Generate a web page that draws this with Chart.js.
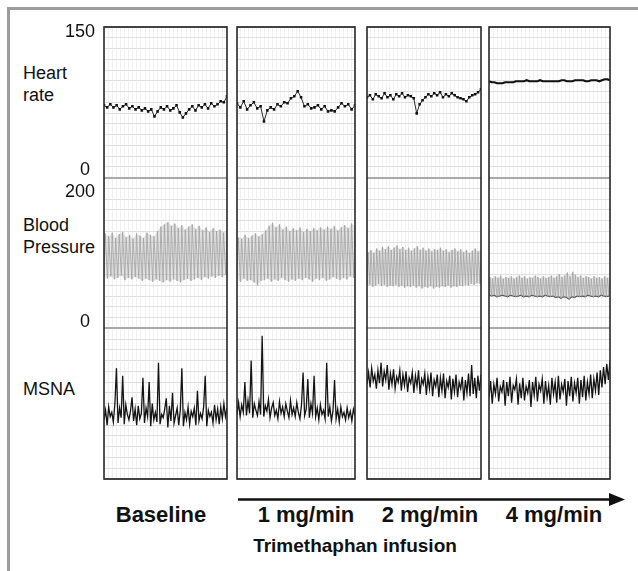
<!DOCTYPE html>
<html><head><meta charset="utf-8">
<script src="https://cdn.jsdelivr.net/npm/chart.js@4.4.1/dist/chart.umd.min.js"></script>
<style>
html,body{margin:0;padding:0;background:#fff;}
body{width:638px;height:571px;position:relative;overflow:hidden;font-family:"Liberation Sans",Arial,sans-serif;color:#111;}
.frameTop{position:absolute;left:7px;top:7px;width:631px;height:3px;background:#9c9c9c;}
.frameLeft{position:absolute;left:7px;top:7px;width:3px;height:564px;background:#9c9c9c;}
canvas{position:absolute;}
.lbl{position:absolute;font-size:18px;line-height:22px;white-space:nowrap;color:#111;}
.cond{position:absolute;font-weight:bold;white-space:nowrap;transform:translateX(-50%);color:#111;}
svg{position:absolute;left:0;top:0;}
</style></head><body>
<div class="frameTop"></div><div class="frameLeft"></div>
<div class="lbl" style="left:23px;top:62px;">Heart<br>rate</div>
<div class="lbl" style="left:23px;top:214px;">Blood<br>Pressure</div>
<div class="lbl" style="left:23px;top:378px;">MSNA</div>
<svg width="638" height="571"><line x1="238" y1="499.5" x2="612" y2="499.5" stroke="#111" stroke-width="2.6"/><polygon points="609,493 625,499.5 609,506" fill="#111"/></svg>
<div id="labels"></div>
<script>
// ---------------- DATA ----------------
const panelNames = ['Baseline', '1 mg/min', '2 mg/min', '4 mg/min'];
const infusionLabel = 'Trimethaphan infusion';
const hrTickValues = [0, 150];
const bpTickValues = [0, 200];
const msnaRange = [0, 140]; // arbitrary units

// Heart rate (beats/min)
const hrBaseline = [72, 70, 73, 70, 72, 68, 71, 73, 69, 71, 68, 70, 67, 69, 66, 68, 61, 66, 70, 68, 71, 67, 69, 72, 65, 60, 64, 68, 71, 67, 72, 70, 73, 69, 74, 71, 73, 76, 75, 81];
const hr1mg = [74, 70, 76, 68, 72, 75, 69, 71, 56, 67, 70, 68, 73, 71, 75, 74, 79, 81, 86, 80, 71, 73, 69, 70, 72, 68, 71, 66, 67, 66, 70, 74, 71, 73, 68, 72];
const hr2mg = [80, 82, 78, 83, 81, 79, 84, 80, 82, 78, 83, 81, 84, 80, 82, 81, 79, 64, 73, 77, 80, 83, 81, 84, 82, 85, 80, 83, 81, 84, 82, 80, 79, 78, 76, 80, 82, 83, 85, 88];
const hr4mg = [96, 95, 95, 94, 94, 94, 95, 95, 95, 95, 96, 96, 96, 96, 97, 96, 96, 96, 96, 97, 96, 96, 96, 96, 96, 96, 96, 97, 97, 96, 96, 96, 97, 97, 97, 97, 96, 96, 97, 97, 97, 96, 97, 98, 98, 97];

// Blood pressure, beat by beat (mmHg)
const sysBaseline = [126, 122, 127, 120, 125, 128, 121, 124, 119, 126, 123, 120, 127, 124, 122, 129, 135, 138, 141, 136, 139, 133, 137, 131, 135, 138, 132, 136, 130, 134, 128, 133, 129, 131, 127, 130];
const diaBaseline = [68, 66, 69, 65, 67, 70, 64, 67, 65, 68, 66, 63, 66, 64, 62, 65, 63, 61, 64, 62, 65, 63, 61, 64, 66, 63, 65, 67, 64, 68, 66, 69, 67, 70, 68, 71];
const sys1mg = [121, 119, 124, 120, 123, 126, 122, 125, 130, 136, 140, 134, 138, 131, 135, 129, 133, 130, 134, 128, 132, 129, 133, 130, 134, 131, 135, 132, 136, 130, 134, 137, 133, 139, 136];
const dia1mg = [65, 62, 66, 63, 64, 61, 57, 63, 64, 66, 62, 65, 63, 67, 64, 62, 65, 63, 66, 64, 67, 65, 62, 66, 64, 67, 63, 65, 68, 66, 64, 67, 65, 69, 67];
const sys2mg = [101, 104, 100, 106, 103, 108, 105, 109, 104, 107, 110, 105, 108, 104, 107, 103, 106, 109, 104, 107, 103, 106, 102, 105, 104, 107, 103, 105, 101, 104, 106, 102, 105, 101, 104, 100, 103, 106, 102, 105];
const dia2mg = [56, 58, 55, 57, 59, 56, 58, 55, 57, 56, 58, 55, 57, 54, 56, 55, 57, 54, 56, 53, 55, 54, 56, 53, 55, 54, 56, 55, 57, 54, 56, 55, 57, 56, 58, 57, 59, 58, 60, 59];
const sys4mg = [68, 66, 69, 67, 70, 66, 68, 67, 69, 66, 68, 70, 67, 69, 66, 68, 67, 70, 68, 66, 69, 67, 68, 70, 67, 69, 72, 68, 70, 74, 69, 75, 71, 68, 70, 67, 69, 68, 66, 69, 67, 68, 66, 69, 67, 68];
const dia4mg = [44, 43, 44, 42, 43, 44, 43, 42, 44, 43, 42, 43, 44, 42, 43, 42, 44, 43, 42, 43, 42, 44, 43, 42, 43, 41, 42, 40, 42, 41, 39, 42, 41, 43, 42, 43, 42, 44, 43, 42, 43, 42, 44, 43, 42, 43];

// MSNA (arbitrary units)
const msnaBaseline = [55, 64, 50, 67, 58, 62, 53, 70, 103, 52, 66, 57, 96, 51, 69, 60, 55, 63, 76, 54, 65, 50, 68, 56, 61, 94, 52, 66, 58, 90, 49, 70, 55, 62, 53, 108, 51, 60, 57, 65, 75, 48, 68, 54, 80, 52, 59, 66, 50, 64, 103, 49, 62, 55, 67, 51, 63, 58, 66, 50, 82, 54, 61, 56, 67, 96, 49, 64, 58, 62, 52, 69, 55, 65, 51, 67, 56, 70, 58, 66];
const msna1mg = [60, 71, 58, 69, 62, 90, 59, 73, 61, 110, 57, 70, 64, 59, 72, 60, 133, 58, 68, 63, 74, 57, 66, 71, 59, 64, 56, 72, 61, 67, 58, 70, 63, 57, 73, 60, 66, 58, 71, 62, 56, 69, 99, 59, 65, 93, 57, 70, 61, 96, 58, 66, 55, 69, 60, 64, 56, 108, 58, 67, 54, 63, 92, 56, 65, 53, 67, 58, 62, 55, 66, 57, 63, 54, 65, 59];
const msna2mg = [88, 99, 85, 103, 91, 97, 84, 101, 89, 108, 86, 100, 92, 106, 83, 98, 88, 102, 84, 95, 90, 101, 82, 97, 87, 100, 81, 94, 89, 99, 80, 96, 86, 101, 79, 93, 88, 98, 78, 95, 84, 99, 77, 92, 86, 97, 76, 94, 82, 98, 75, 91, 85, 96, 74, 93, 81, 97, 76, 90, 84, 95, 73, 92, 80, 98, 77, 106, 79, 94, 75, 96, 82, 97];
const msna4mg = [76, 91, 70, 88, 79, 94, 72, 86, 81, 92, 68, 90, 77, 95, 71, 87, 83, 93, 69, 89, 75, 94, 73, 86, 80, 92, 67, 90, 78, 95, 72, 88, 82, 93, 70, 91, 76, 87, 69, 94, 79, 90, 71, 96, 74, 88, 81, 93, 68, 91, 77, 95, 72, 89, 80, 94, 70, 92, 76, 96, 73, 90, 79, 97, 75, 93, 82, 99, 78, 101, 85, 104, 88, 107, 92, 110];

// ---------------- LAYOUT (pixels) ----------------
const PANELS = [
  {left:104, right:227, top:27, bottom:479, hr:hrBaseline, sys:sysBaseline, dia:diaBaseline, msna:msnaBaseline, labelX:161},
  {left:237, right:355, top:27, bottom:479, hr:hr1mg, sys:sys1mg, dia:dia1mg, msna:msna1mg, labelX:306},
  {left:367, right:481, top:27, bottom:479, hr:hr2mg, sys:sys2mg, dia:dia2mg, msna:msna2mg, labelX:430},
  {left:489, right:610, top:27, bottom:479, hr:hr4mg, sys:sys4mg, dia:dia4mg, msna:msna4mg, labelX:554}
];
const T = 30; // seconds of recording shown per panel

function series(vals){
  const n = vals.length;
  return vals.map((v,i)=>({x: i*T/(n-1), y: v}));
}
function beatTimes(n){ return T/(n-0.65); }
function pulse(sys, dia){
  const n = sys.length, per = beatTimes(n), out = [];
  for (let i=0;i<n;i++){ out.push({x:i*per, y:dia[i]}); out.push({x:i*per+0.35*per, y:sys[i]}); }
  return out;
}
function sysPts(sys){ const per = beatTimes(sys.length); return sys.map((v,i)=>({x:i*per+0.35*per, y:v})); }
function diaPts(dia){ const per = beatTimes(dia.length); return dia.map((v,i)=>({x:i*per, y:v})); }
const near = (a,b)=>Math.abs(a-b)<1e-6;

const borderPlugin = {
  id:'panelBorder',
  afterDraw(chart){
    const a = chart.chartArea, c = chart.ctx;
    c.save(); c.strokeStyle='#2a2a2a'; c.lineWidth=1.6;
    c.strokeRect(a.left, a.top, a.right-a.left, a.bottom-a.top);
    c.restore();
  }
};

function gridColor(ctx){
  const last = ctx.scale.ticks.length-1;
  return (ctx.index===0 || ctx.index===last) ? '#a9a9a9' : '#e0e0e0';
}
function gridWidth(ctx){
  const last = ctx.scale.ticks.length-1;
  return (ctx.index===0 || ctx.index===last) ? 2 : 1;
}

PANELS.forEach((p, i) => {
  const first = i===0;
  const pad = 8;
  const axisW = first ? p.left - 12 - pad : 0;
  const cl = p.left - pad - axisW, ct = p.top - pad;
  const cw = p.right - p.left + 2*pad + axisW, ch = p.bottom - p.top + 2*pad;
  const cv = document.createElement('canvas');
  cv.width = cw; cv.height = ch;
  cv.style.left = cl+'px'; cv.style.top = ct+'px';
  cv.style.width = cw+'px'; cv.style.height = ch+'px';
  document.body.appendChild(cv);

  const yCommon = (min, max, weight, vals, lh, off) => ({
    type:'linear', position:'left', stack:'panel', stackWeight:1, weight:weight,
    min:min, max:max,
    border:{display:false},
    grid:{color:gridColor, lineWidth:gridWidth, drawTicks:false},
    ticks:{
      count:15, autoSkip:false, display:first && !!vals, padding:9,
      color:'#111', labelOffset:off,
      font:{family:'Liberation Sans', size:18, lineHeight:lh},
      callback:(v)=>{
        if (!vals) return '';
        if (near(v, vals[1])) return ['', String(vals[1])];
        if (near(v, vals[0])) return [String(vals[0])+' ', ''];
        return '';
      }
    },
    afterFit:(s)=>{ s.width = axisW; s.paddingTop = 0; s.paddingBottom = 0; }
  });

  const datasets = [
    {label:'Heart rate', data:series(p.hr), yAxisID:'yHr', borderColor:'#111', backgroundColor:'#111',
     borderWidth: i===3 ? 2.2 : 0.9, pointRadius: i===3 ? 0 : 1.8, pointBorderWidth:0, pointStyle:'rect', tension:0},
    {label:'Systolic envelope', data:sysPts(p.sys), yAxisID:'yBp', borderColor:'rgba(0,0,0,0)', borderWidth:0,
     pointRadius:0, fill:'+1', backgroundColor:'rgba(175,175,175,0.35)', tension:0},
    {label:'Diastolic envelope', data:diaPts(p.dia), yAxisID:'yBp', borderColor:'rgba(0,0,0,0)', borderWidth:0,
     pointRadius:0, fill:false, tension:0},
    {label:'Blood pressure', data:pulse(p.sys, p.dia), yAxisID:'yBp', borderColor:'#9c9c9c',
     borderWidth:0.8, pointRadius:0, tension:0},
    {label:'MSNA', data:series(p.msna), yAxisID:'yMsna', borderColor:'#141414',
     borderWidth:1.3, pointRadius:0, tension:0}
  ];
  if (i===3) datasets.push({label:'Diastolic', data:diaPts(p.dia), yAxisID:'yBp', borderColor:'#444', borderWidth:1.3, pointRadius:0, tension:0});

  new Chart(cv, {
    type:'line',
    data:{datasets},
    options:{
      responsive:false, animation:false, devicePixelRatio:1,
      layout:{padding:{left:pad, right:pad, top:pad, bottom:pad}, autoPadding:false},
      plugins:{legend:{display:false}, tooltip:{enabled:false}, filler:{propagate:false}},
      scales:{
        x:{type:'linear', min:0, max:T, border:{display:false},
           grid:{color:'#f0f0f0', lineWidth:1, drawTicks:false},
           ticks:{display:false, count:31},
           afterFit:(s)=>{ s.height = 0; s.paddingLeft = 0; s.paddingRight = 0; }},
        yHr: yCommon(hrTickValues[0], hrTickValues[1], 3, hrTickValues, 0.722, -1),
        yBp: yCommon(bpTickValues[0], bpTickValues[1], 2, bpTickValues, 1.111, 4),
        yMsna: yCommon(msnaRange[0], msnaRange[1], 1, null, 1, 0)
      }
    },
    plugins:[borderPlugin]
  });
});

// bottom labels
const lab = document.getElementById('labels');
PANELS.forEach((p,i)=>{
  const d = document.createElement('div');
  d.className='cond'; d.textContent = panelNames[i];
  d.style.cssText += 'left:'+p.labelX+'px;top:504px;font-size:22px;line-height:22px;';
  lab.appendChild(d);
});
const inf = document.createElement('div');
inf.className='cond'; inf.textContent = infusionLabel;
inf.style.cssText += 'left:355px;top:536px;font-size:19px;line-height:19px;';
lab.appendChild(inf);
</script>
</body></html>
